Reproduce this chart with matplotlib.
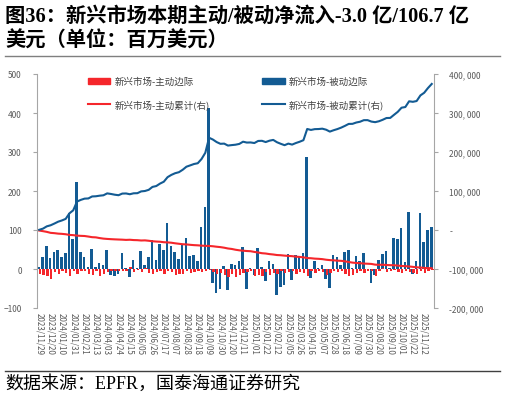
import matplotlib.pyplot as plt
from matplotlib.patches import Patch
from matplotlib.lines import Line2D
import numpy as np
import pandas as pd

plt.rcParams['font.family'] = ['Noto Sans CJK SC', 'DejaVu Sans']

# weekly dates, 2023/11/29 .. 2025/11/26
dates = pd.date_range('2023-11-29', periods=105, freq='7D')

# weekly flows (left axis)
active = [-14, -16, -18, -25, -8, -12, -6, -10, -17, -6, -12, -6, -4, -14, -16, -5, -18,
          -14, -8, -6, -5, -4, -4, -6, 4, -8, -3, -8, 3, -10, -12, -8, -5,
          -12, -5, -8, -15, -12, -12, -5, -10, -8, -5, -8, -5, -3, -8, -12, -10, -15, -20,
          -12, -20, -15, -10, -8, -5, -18, -15, -18, -8, -15, -10, -14, -5, -10,
          -8, -6, -12, -8, -10, -18, -5, -10, -5, -8, -15, -10, -6, -8, -5, -12, -18,
          -15, -10, -5, -10, -4, -5, -18, -5, 3, -8, -4, -2, -8, -10, -5, -8, -10, -12,
          -5, -10, -5, -3]
passive = [5, 31, 58, 27, 44, 48, 32, 40, 143, 77, 224, 43, 32, 5, 51, 5, 15, 10, 49,
           -15, -19, -13, 42, 3, -20, 24, 3, 46, 10, 30, 75, 22, 63, 48, 117, 58, 43, 26,
           62, 79, 34, 35, 20, 108, 160, 412, -37, -62, -50, 7, -55, 12, 10, 20, 57, -52,
           3, -15, 53, 4, -32, 21, 12, -66, -45, -40, 38, -28, 37, 32, 40, 288, -24, 20,
           3, 9, -26, -49, 35, 30, 9, 43, 50, 2, 34, 20, 40, 1, -37, -15, 23, 38, 45, 3,
           79, 77, 106, 17, 147, -13, 20, 144, 68, 100, 108]

# cumulative flows (right axis)
active_cum = [-1400, -3000, -4800, -7300, -8100, -9300, -9900, -10900, -12600, -13200,
              -14400, -15000, -15400, -16800, -18400, -18900, -20700, -22100, -22900,
              -23500, -24000, -24400, -24800, -25400, -25000, -25800, -26100, -26900,
              -26600, -27600, -28800, -29600, -30100, -31300, -31800, -32600, -34100,
              -35300, -36500, -37000, -38000, -38800, -39300, -40100, -40600, -40900,
              -41700, -42900, -43900, -45400, -47400, -48600, -50600, -52100, -53100,
              -53900, -54400, -56200, -57700, -59500, -60300, -61800, -62800, -64200,
              -64700, -65700, -66500, -67100, -68300, -69100, -70100, -71900, -72400,
              -73400, -73900, -74700, -76200, -77200, -77800, -78600, -79100, -80300,
              -82100, -83600, -84600, -85100, -86100, -86500, -87000, -88800, -89300,
              -89000, -89800, -90200, -90400, -91200, -92200, -92700, -93500, -94500,
              -95700, -96200, -97200, -97700, -98000]
passive_cum = [500, 3600, 9400, 12100, 16500, 21300, 24500, 28500, 42800, 50500, 72900,
               77200, 80400, 80900, 86000, 86500, 88000, 89000, 93900, 92400, 90500, 89200,
               93400, 93700, 91700, 94100, 94400, 99000, 100000, 103000, 110500, 112700,
               119000, 123800, 135500, 141300, 145600, 148200, 154400, 162300, 165700,
               169200, 171200, 182000, 198000, 236500, 232000, 225500, 221000, 221500,
               216500, 217700, 218700, 220700, 226400, 224200, 224500, 223000, 228300,
               228700, 225500, 229000, 231000, 225000, 221000, 217500, 221500, 219000,
               223000, 226300, 230300, 259000, 256600, 258600, 258900, 259800, 257200,
               252300, 255800, 258800, 262500, 267000, 272000, 272200, 275600, 277600,
               281600, 281700, 278000, 276500, 278800, 282600, 287100, 287400, 295300,
               303000, 313600, 315300, 330000, 328700, 330700, 345100, 351900, 364000,
               374500]

red = '#F5262B'
blue = '#135B93'
grey = '#595959'

fig = plt.figure(figsize=(5.06, 4.02), dpi=100)
ax = fig.add_axes([37/506, 93/402, 397/506, 234/402])
ax2 = ax.twinx()

x = np.arange(len(dates))
ax.bar(x - 0.12, passive, width=0.68, color=blue)
ax.bar(x + 0.16, active, width=0.62, color=red)
ax2.plot(x, active_cum, color=red, lw=1.5)
ax2.plot(x, passive_cum, color=blue, lw=1.5)

ax.set_xlim(-0.6, len(dates) - 0.4)
ax.set_ylim(-100, 500)
ax2.set_ylim(-200000, 400000)

ax.set_yticks(range(-100, 501, 100))
ax.tick_params(axis='y', direction='out', length=3, color='#A6A6A6', labelsize=6,
               labelcolor=grey, pad=8)
r_ticks = list(range(-200000, 400001, 100000))
ax2.set_yticks(r_ticks)
ax2.set_yticklabels(['-' if v == 0 else f'{v:,}'.replace(',', ', ') for v in r_ticks])
ax2.tick_params(axis='y', direction='out', length=3, color='#A6A6A6', labelsize=6,
                labelcolor=grey, pad=8)

tick_idx = list(range(0, len(dates), 3))
ax.set_xticks(tick_idx)
ax.set_xticklabels([dates[i].strftime('%Y/%m/%d') for i in tick_idx], rotation=-90,
                   fontsize=5.8, color=grey)
ax.tick_params(axis='x', length=0, pad=3)

for a in (ax, ax2):
    a.spines['top'].set_visible(False)
    a.spines['bottom'].set_visible(False)
ax.spines['right'].set_visible(False)
ax2.spines['left'].set_visible(False)
ax.spines['left'].set_color('#A6A6A6')
ax2.spines['right'].set_color('#A6A6A6')

handles = [Patch(color=red), Line2D([], [], color=red, lw=1.5),
           Patch(color=blue), Line2D([], [], color=blue, lw=1.5)]
labels = ['新兴市场-主动边际', '新兴市场-主动累计(右)', '新兴市场-被动边际', '新兴市场-被动累计(右)']
fig.legend(handles, labels, loc='upper left', bbox_to_anchor=(84/506, 1 - 74/402),
           ncol=2, frameon=False, fontsize=6.8, labelcolor='#404040', handlelength=2.4,
           handletextpad=0.4, columnspacing=5.6, labelspacing=1.35, borderaxespad=0)

title_font = ['Liberation Serif', 'Noto Sans CJK SC']
fig.text(5/506, 1 - 17/402, '图36：新兴市场本期主动/被动净流入-3.0 亿/106.7 亿', family=title_font,
         fontsize=14.6, fontweight='bold', va='center', ha='left')
fig.text(5/506, 1 - 42/402, '美元（单位：百万美元）', family=title_font,
         fontsize=14.6, fontweight='bold', va='center', ha='left')
fig.add_artist(Line2D([5/506, 500/506], [1 - 57/402, 1 - 57/402], color='#7F7F7F', lw=1))
fig.add_artist(Line2D([5/506, 500/506], [1 - 372/402, 1 - 372/402], color='#404040', lw=1))
fig.text(5/506, 1 - 384/402, '数据来源：EPFR，国泰海通证券研究', family=title_font,
         fontsize=13, va='center', ha='left')

fig.savefig('out.png', dpi=100)
